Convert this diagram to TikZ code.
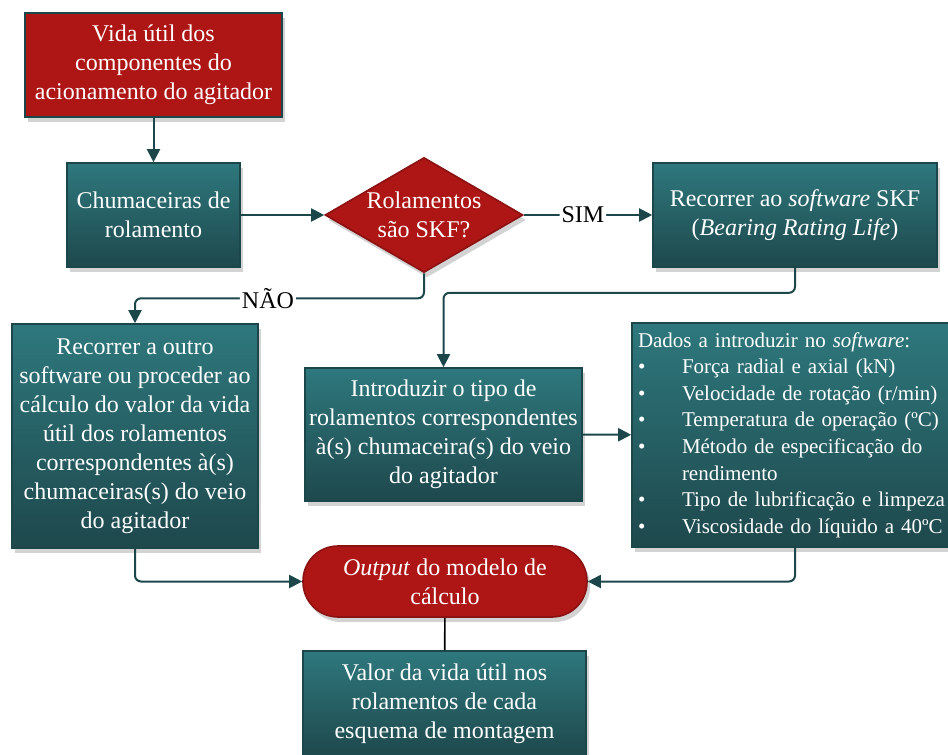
\documentclass[tikz,border=0pt]{standalone}
\usepackage{fontspec}
\setmainfont{Liberation Serif}
\usetikzlibrary{arrows.meta,shapes.geometric,shadows}
\definecolor{skfred}{HTML}{AE1616}
\definecolor{skfredline}{HTML}{8A1212}
\definecolor{tealtop}{HTML}{2E787D}
\definecolor{tealbot}{HTML}{1E484C}
\definecolor{tealline}{HTML}{1B474B}
\newcommand{\bulitem}[1]{\makebox[22pt][l]{\textbullet}#1}

\begin{document}
\begin{tikzpicture}[x=0.5pt, y=-0.5pt,
  flowbox/.style={rectangle, draw=tealline, line width=0.8pt, text=white, align=center,
    inner sep=2pt, font=\fontsize{12}{14.5}\selectfont,
    drop shadow={shadow xshift=1.5pt, shadow yshift=-2.5pt, opacity=0.35}},
  redbox/.style={flowbox, fill=skfred},
  tealbox/.style={flowbox, top color=tealtop, bottom color=tealbot},
  decision/.style={flowbox, diamond, aspect=1.72, draw=skfredline, fill=skfred, inner sep=0pt},
  terminal/.style={flowbox, rounded corners=17.5pt, draw=skfredline, fill=skfred},
  link/.style={draw=tealline, line width=1pt, rounded corners=3pt,
    -{Triangle[length=6.5pt,width=6.5pt]}},
  answer/.style={fill=white, text=black, inner sep=1pt, font=\fontsize{12}{14.5}\selectfont}]
\useasboundingbox (0,0) rectangle (948,755);

\node [redbox, minimum width=128.5pt, minimum height=52pt] (vida) at (153.5,65)
  {Vida útil dos\\componentes do\\acionamento do agitador};
\node [tealbox, minimum width=86.5pt, minimum height=52pt] (chum) at (153.5,215)
  {Chumaceiras de\\rolamento};
\node [decision, minimum width=99pt, minimum height=57.5pt] (skfq) at (424,215)
  {Rolamentos\\são SKF?};
\node [tealbox, minimum width=142pt, minimum height=52pt] (skfsw) at (795,215)
  {Recorrer ao \textit{software} SKF\\(\textit{Bearing Rating Life})};
\node [tealbox, minimum width=123pt, minimum height=112pt] (outro) at (135,436)
  {Recorrer a outro\\software ou proceder ao\\cálculo do valor da vida\\útil dos rolamentos\\correspondentes à(s)\\chumaceiras(s) do veio\\do agitador};
\node [tealbox, minimum width=138.5pt, minimum height=66.5pt] (intro) at (443.5,434.5)
  {Introduzir o tipo de\\rolamentos correspondentes\\à(s) chumaceira(s) do veio\\do agitador};
\node [tealbox, align=left, inner xsep=3pt, text width=164pt, minimum height=112pt,
  font=\fontsize{10.5}{13.3}\selectfont] (dados) at (802,435)
  {Dados a introduzir no \textit{software}:\\
   \bulitem{Força radial e axial (kN)}\\
   \bulitem{Velocidade de rotação (r/min)}\\
   \bulitem{Temperatura de operação (ºC)}\\
   \bulitem{Método de especificação do}\\
   \hspace*{22pt}rendimento\\
   \bulitem{Tipo de lubrificação e limpeza}\\
   \bulitem{Viscosidade do líquido a 40ºC}};
\node [terminal, minimum width=142pt, minimum height=35.5pt] (output) at (445,581.5)
  {\textit{Output} do modelo de\\cálculo};
\node [tealbox, minimum width=141.5pt, minimum height=53pt] (valor) at (444.5,704)
  {Valor da vida útil nos\\rolamentos de cada\\esquema de montagem};

\draw [link] (vida) -- (chum);
\draw [link] (chum) -- (skfq);
\draw [link] (skfq) -- node [answer, pos=0.46] {SIM} (skfsw);
\draw [link] (skfq.south) -- ++(0,25) -| node [answer, pos=0.27] {NÃO} (outro.north);
\draw [link] (skfsw.south) -- ++(0,25) -| (intro.north);
\draw [link] (intro) -- (dados);
\draw [link] ([xshift=-3.5pt]dados.south) |- (output.east);
\draw [link] (outro.south) |- (output.west);
\draw [draw=black, line width=0.8pt] (output) -- (valor);
\end{tikzpicture}
\end{document}
